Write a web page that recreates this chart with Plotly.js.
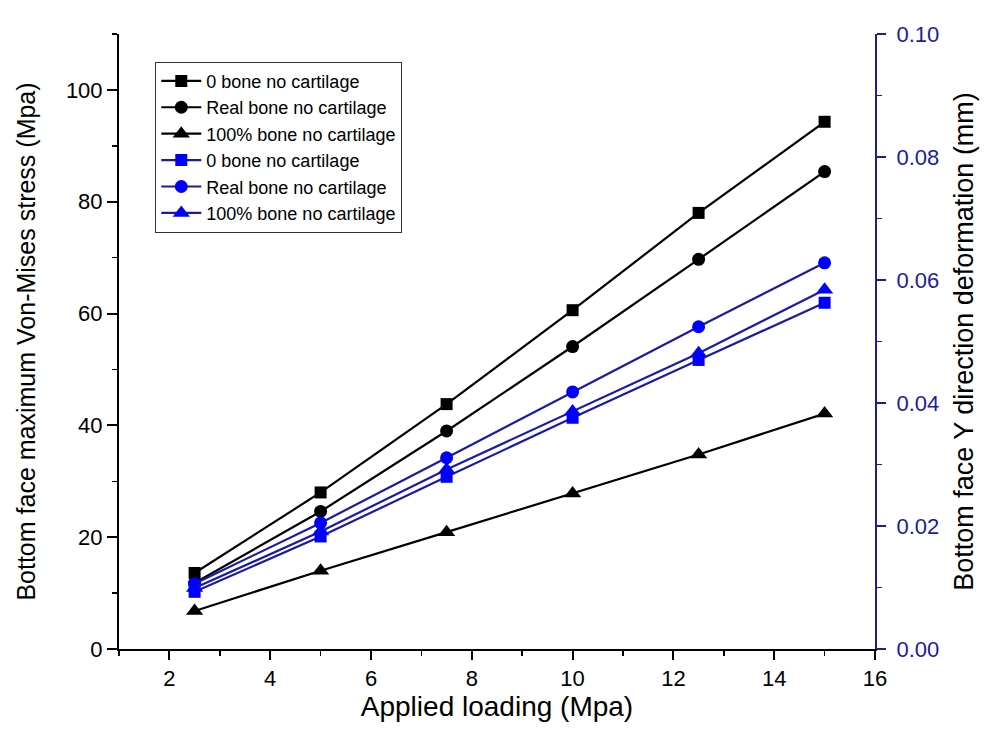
<!DOCTYPE html>
<html>
<head>
<meta charset="utf-8">
<script src="https://cdn.plot.ly/plotly-3.0.1.min.js"></script>
<style>html,body{margin:0;padding:0;background:#fff;}#chart{width:991px;height:751px;}</style>
</head>
<body>
<div id="chart"></div>
<script>
// Data
var loading = [2.5, 5, 7.5, 10, 12.5, 15];
var seriesNames = ["0 bone no cartilage", "Real bone no cartilage", "100% bone no cartilage"];
// Left axis: bottom face maximum Von-Mises stress (Mpa)
var stressZeroBone = [13.6, 28.0, 43.8, 60.6, 78.0, 94.3];
var stressRealBone = [11.8, 24.6, 39.0, 54.1, 69.7, 85.4];
var stressFullBone = [6.8, 14.0, 20.9, 27.8, 34.8, 42.1];
// Right axis: bottom face Y direction deformation (mm)
var deformZeroBone = [0.0093, 0.0183, 0.0280, 0.0376, 0.0470, 0.0563];
var deformRealBone = [0.0106, 0.0205, 0.0311, 0.0418, 0.0524, 0.0628];
var deformFullBone = [0.0099, 0.0191, 0.0292, 0.0386, 0.0481, 0.0584];

var symbols = ["square", "circle", "triangle-up"];
var symSizes = [12, 13, 15];
var black = "#000000";
var blueLine = "#1a1aa8";
var blueMarker = "#0000ff";
var navy = "#1c1c9c";

function mk(y, i, axis, lineColor, markerColor) {
  return {
    x: loading, y: y, name: seriesNames[i], yaxis: axis,
    type: "scatter", mode: "lines+markers",
    line: {color: lineColor, width: 2.2},
    marker: {symbol: symbols[i], size: symSizes[i], color: markerColor, line: {width: 0}}
  };
}

var traces = [
  mk(stressZeroBone, 0, "y", black, black),
  mk(stressRealBone, 1, "y", black, black),
  mk(stressFullBone, 2, "y", black, black),
  mk(deformZeroBone, 0, "y2", blueLine, blueMarker),
  mk(deformRealBone, 1, "y2", blueLine, blueMarker),
  mk(deformFullBone, 2, "y2", blueLine, blueMarker)
];

var fontFam = "Liberation Sans, Arial, sans-serif";
var layout = {
  width: 991, height: 751,
  margin: {l: 119, r: 116, t: 34, b: 102, pad: 0},
  paper_bgcolor: "#ffffff", plot_bgcolor: "#ffffff",
  font: {family: fontFam, color: "#000"},
  showlegend: true,
  legend: {
    x: 0.048, y: 0.955, xanchor: "left", yanchor: "top",
    bordercolor: "#333", borderwidth: 1, bgcolor: "rgba(255,255,255,0)",
    font: {family: fontFam, size: 18, color: "#000"},
    tracegroupgap: 0, itemwidth: 40
  },
  xaxis: {
    range: [1, 16], dtick: 2, tick0: 0,
    showgrid: false, zeroline: false,
    showline: true, linecolor: "#000", linewidth: 2,
    ticks: "outside", ticklen: 9, tickwidth: 2, tickcolor: "#000",
    minor: {dtick: 1, ticks: "outside", ticklen: 5, tickwidth: 1.5, tickcolor: "#000"},
    tickfont: {family: fontFam, size: 22, color: "#000"},
    title: {text: "Applied loading (Mpa)", font: {family: fontFam, size: 28, color: "#000"}, standoff: 5}
  },
  yaxis: {
    range: [0, 110], dtick: 20, tick0: 0,
    showgrid: false, zeroline: false,
    showline: true, linecolor: "#000", linewidth: 2,
    ticks: "outside", ticklen: 10, tickwidth: 2, tickcolor: "#000",
    minor: {dtick: 10, ticks: "outside", ticklen: 5, tickwidth: 1.5, tickcolor: "#000"},
    tickfont: {family: fontFam, size: 22, color: "#000"},
    title: {text: "Bottom face maximum Von-Mises stress (Mpa)", font: {family: fontFam, size: 25, color: "#000"}, standoff: 23}
  },
  yaxis2: {
    overlaying: "y", side: "right", anchor: "x",
    range: [0, 0.1], dtick: 0.02, tick0: 0, tickformat: ".2f",
    showgrid: false, zeroline: false,
    showline: true, linecolor: navy, linewidth: 2,
    ticks: "outside", ticklen: 9, tickwidth: 2, tickcolor: navy,
    ticklabelstandoff: 6,
    minor: {dtick: 0.01, ticks: "outside", ticklen: 5, tickwidth: 1.5, tickcolor: navy},
    tickfont: {family: fontFam, size: 22, color: navy},
    title: {text: "Bottom face Y direction deformation (mm)", font: {family: fontFam, size: 27, color: "#000"}, standoff: 16}
  }
};

Plotly.newPlot("chart", traces, layout, {displayModeBar: false, staticPlot: true});
</script>
</body>
</html>
